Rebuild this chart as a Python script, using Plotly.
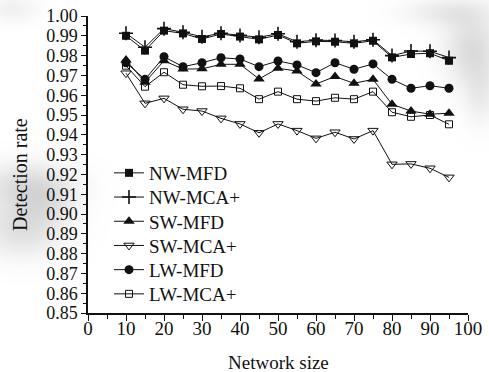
import base64
import struct
import zlib

import numpy as np
import plotly.graph_objects as go

# Network sizes tested
network_size = [10, 15, 20, 25, 30, 35, 40, 45, 50, 55, 60, 65, 70, 75, 80, 85, 90, 95]

# Detection rate per method and network type
nw_mfd = [0.9900, 0.9825, 0.9926, 0.9912, 0.9884, 0.9909, 0.9896, 0.9882, 0.9904,
          0.9862, 0.9872, 0.9870, 0.9862, 0.9875, 0.9791, 0.9808, 0.9812, 0.9774]
nw_mca = [0.9913, 0.9842, 0.9936, 0.9918, 0.9895, 0.9913, 0.9902, 0.9893, 0.9910,
          0.9870, 0.9878, 0.9876, 0.9870, 0.9880, 0.9800, 0.9823, 0.9822, 0.9790]
sw_mfd = [0.9778, 0.9665, 0.9774, 0.9732, 0.9733, 0.9756, 0.9756, 0.9682, 0.9736,
          0.9722, 0.9657, 0.9694, 0.9660, 0.9680, 0.9554, 0.9520, 0.9504, 0.9509]
sw_mca = [0.9711, 0.9559, 0.9584, 0.9529, 0.9520, 0.9483, 0.9455, 0.9410, 0.9455,
          0.9421, 0.9382, 0.9413, 0.9379, 0.9421, 0.9251, 0.9253, 0.9231, 0.9185]
lw_mfd = [0.9764, 0.9680, 0.9794, 0.9744, 0.9764, 0.9789, 0.9783, 0.9744, 0.9773,
          0.9753, 0.9714, 0.9764, 0.9731, 0.9758, 0.9680, 0.9635, 0.9648, 0.9635]
lw_mca = [0.9749, 0.9643, 0.9716, 0.9653, 0.9645, 0.9646, 0.9635, 0.9580, 0.9618,
          0.9580, 0.9570, 0.9587, 0.9580, 0.9618, 0.9514, 0.9491, 0.9500, 0.9453]

series_names = ["NW-MFD", "NW-MCA+", "SW-MFD", "SW-MCA+", "LW-MFD", "LW-MCA+"]
series_values = [nw_mfd, nw_mca, sw_mfd, sw_mca, lw_mfd, lw_mca]

FONT = "Liberation Serif"
INK = "#111111"

marker_styles = [
    dict(symbol="square", size=8, color=INK),
    dict(symbol="cross-thin", size=10, color=INK, line=dict(width=1.6, color=INK)),
    dict(symbol="triangle-up", size=10, color=INK),
    dict(symbol="triangle-down-open", size=9, color=INK, line=dict(width=1, color=INK)),
    dict(symbol="circle", size=9, color=INK),
    dict(symbol="square-open", size=7, color=INK, line=dict(width=1, color=INK)),
]

# Figure / plot-area geometry (pixels)
W, H = 489, 372
M_L, M_R, M_T, M_B = 88, 21, 16, 59
plot_w = W - M_L - M_R
plot_h = H - M_T - M_B


def soft_shading_png(width, height, blobs, grey=110):
    """Grey RGBA image made of soft gaussian patches, encoded as a PNG data URI."""
    yy, xx = np.mgrid[0:height, 0:width].astype(float)
    alpha = np.zeros((height, width))
    for cx, cy, sx, sy, a in blobs:
        alpha += a * np.exp(-(((xx - cx) / sx) ** 2 + ((yy - cy) / sy) ** 2) / 2)
    alpha = np.clip(alpha, 0, 1)
    rgba = np.zeros((height, width, 4), dtype=np.uint8)
    rgba[..., :3] = grey
    rgba[..., 3] = (alpha * 255).astype(np.uint8)
    raw = b"".join(b"\x00" + rgba[r].tobytes() for r in range(height))

    def chunk(tag, data):
        body = tag + data
        return struct.pack(">I", len(data)) + body + struct.pack(">I", zlib.crc32(body) & 0xFFFFFFFF)

    png = (b"\x89PNG\r\n\x1a\n"
           + chunk(b"IHDR", struct.pack(">IIBBBBB", width, height, 8, 6, 0, 0, 0))
           + chunk(b"IDAT", zlib.compress(raw, 9))
           + chunk(b"IEND", b""))
    return "data:image/png;base64," + base64.b64encode(png).decode()


# Faint grey patches on the paper: left margin and upper-right corner
shading = soft_shading_png(W, H, [
    (28, 185, 32, 16, 0.24),
    (22, 228, 30, 20, 0.22),
    (45, 205, 20, 14, 0.10),
    (472, 48, 20, 26, 0.24),
    (445, 12, 30, 10, 0.14),
    (480, 95, 12, 22, 0.12),
    (12, 8, 18, 10, 0.10),
])

fig = go.Figure()
legend_ids = ["legend"] + [f"legend{i}" for i in range(2, len(series_names) + 1)]
for name, vals, mk, lg in zip(series_names, series_values, marker_styles, legend_ids):
    fig.add_trace(go.Scatter(
        x=network_size, y=vals, name=name, mode="lines+markers",
        line=dict(color=INK, width=1),
        marker=mk, legend=lg,
    ))

# One single-entry legend per series, stacked with a fixed row pitch
legend_layout = {}
first_row_px, row_pitch_px = 173, 24.2
for i, lg in enumerate(legend_ids):
    row_px = first_row_px + i * row_pitch_px
    legend_layout[lg] = dict(
        x=(109 - M_L) / plot_w, y=(H - M_B - row_px) / plot_h,
        xanchor="left", yanchor="middle",
        bgcolor="rgba(0,0,0,0)", borderwidth=0,
        font=dict(family=FONT, size=19, color=INK),
        itemwidth=30,
    )

axis_common = dict(
    showgrid=False, zeroline=False, showline=True, linecolor=INK, linewidth=1.5,
    tickcolor=INK, tickwidth=1.2, automargin=False,
)

fig.update_layout(
    width=W, height=H,
    margin=dict(l=M_L, r=M_R, t=M_T, b=M_B),
    paper_bgcolor="white", plot_bgcolor="rgba(0,0,0,0)",
    font=dict(family=FONT, size=19, color=INK),
    showlegend=True,
    **legend_layout,
    images=[dict(
        source=shading, xref="paper", yref="paper",
        x=-M_L / plot_w, y=1 + M_T / plot_h,
        sizex=W / plot_w, sizey=H / plot_h,
        xanchor="left", yanchor="top", sizing="stretch", layer="below",
    )],
    xaxis=dict(
        range=[0, 100], tick0=0, dtick=10, ticks="outside", ticklen=6,
        ticklabelstandoff=-9,
        tickfont=dict(family=FONT, size=19, color=INK),
        minor=dict(tick0=0, dtick=5, ticks="outside", ticklen=4, tickcolor=INK),
        **axis_common,
    ),
    yaxis=dict(
        range=[0.85, 1.0], tick0=0.85, dtick=0.01, tickformat=".2f",
        ticks="outside", ticklen=5,
        tickfont=dict(family=FONT, size=18, color=INK),
        minor=dict(tick0=0.85, dtick=0.005, ticks="outside", ticklen=3, tickcolor=INK),
        **axis_common,
    ),
    xaxis2=dict(
        overlaying="x", side="top", anchor="y", range=[0, 100], tick0=0, dtick=10,
        ticks="inside", ticklen=5, showticklabels=False,
        **axis_common,
    ),
    yaxis2=dict(
        overlaying="y", side="right", anchor="x", range=[0.85, 1.0], tick0=0.85, dtick=0.015,
        ticks="inside", ticklen=5, showticklabels=False,
        **axis_common,
    ),
    annotations=[
        dict(
            text="Detection rate", xref="paper", yref="paper",
            x=(20 - M_L) / plot_w, y=(H - M_B - 175) / plot_h,
            xanchor="center", yanchor="middle",
            textangle=-90, showarrow=False,
            font=dict(family=FONT, size=20, color=INK),
        ),
        dict(
            text="Network size", xref="paper", yref="paper",
            x=0.5, y=(H - M_B - 362) / plot_h,
            xanchor="center", yanchor="middle", showarrow=False,
            font=dict(family=FONT, size=19, color=INK),
        ),
    ],
)

fig.write_html("out.html")
